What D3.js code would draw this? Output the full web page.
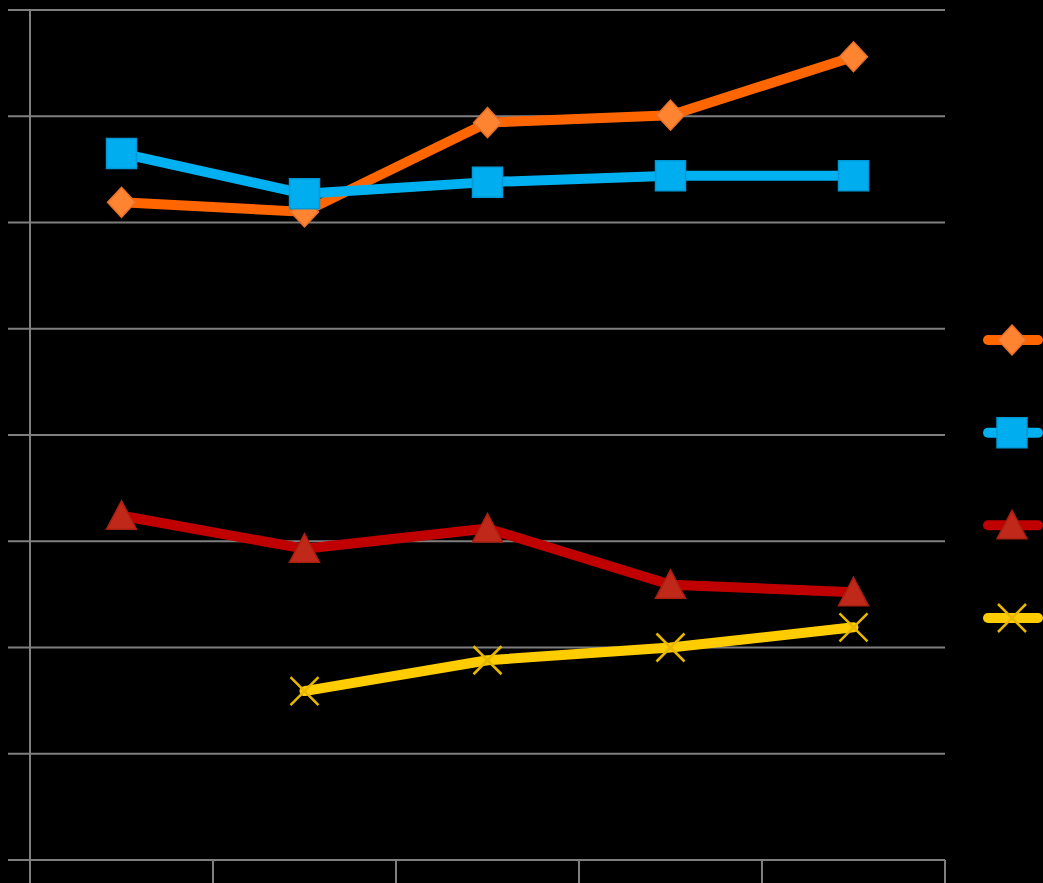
<!DOCTYPE html>
<html>
<head>
<meta charset="utf-8">
<script src="https://cdn.jsdelivr.net/npm/d3@7"></script>
<style>
  html, body { margin: 0; padding: 0; background: #000; }
  svg { display: block; }
</style>
</head>
<body>
<svg id="chart" width="1043" height="883"></svg>
<script>
// ---- data ----
const categories = ["1", "2", "3", "4", "5"];
const seriesNames = ["Series 1", "Series 2", "Series 3", "Series 4"];
const orangeValues = [61.9, 61.0, 69.4, 70.1, 75.6];
const blueValues   = [66.5, 62.7, 63.8, 64.4, 64.4];
const redValues    = [32.4, 29.3, 31.2, 25.9, 25.2];
const yellowValues = [null, 15.9, 18.8, 20.0, 21.9];
const yTicks = [0, 10, 20, 30, 40, 50, 60, 70, 80];

const series = [
  { name: seriesNames[0], values: orangeValues, line: "#FF6600", fill: "#FF8431", stroke: "#E8702A", shape: "diamond" },
  { name: seriesNames[1], values: blueValues,   line: "#00B0F0", fill: "#00AEEF", stroke: "#0099D8", shape: "square" },
  { name: seriesNames[2], values: redValues,    line: "#C00000", fill: "#C0281A", stroke: "#A82010", shape: "triangle" },
  { name: seriesNames[3], values: yellowValues, line: "#FFCC00", fill: "none",    stroke: "#E8B800", shape: "x" }
];

const svg = d3.select("#chart");
const plotL = 30, plotR = 945, plotT = 10, plotB = 860;

const x = d3.scaleBand().domain(categories).range([plotL, plotR]);
const y = d3.scaleLinear().domain([0, 80]).range([plotB, plotT]);

// gridlines
svg.append("g").selectAll("line").data(yTicks).join("line")
  .attr("x1", 8).attr("x2", plotR)
  .attr("y1", d => y(d)).attr("y2", d => y(d))
  .attr("stroke", "#7f7f7f").attr("stroke-width", 2);

// y axis line
svg.append("line").attr("x1", plotL).attr("x2", plotL).attr("y1", plotT).attr("y2", 883)
  .attr("stroke", "#7f7f7f").attr("stroke-width", 2);

// x axis tick marks (band boundaries)
const bounds = categories.map(c => x(c)).concat([x(categories[categories.length - 1]) + x.bandwidth()]);
svg.append("g").selectAll("line").data(bounds.slice(1)).join("line")
  .attr("x1", d => d).attr("x2", d => d).attr("y1", plotB).attr("y2", 883)
  .attr("stroke", "#7f7f7f").attr("stroke-width", 2);

function markerPath(shape, s) {
  const h = s / 2;
  switch (shape) {
    case "diamond": return `M0,${-h}L${h*0.93},0L0,${h}L${-h*0.93},0Z`;
    case "square": return `M${-h},${-h}H${h}V${h}H${-h}Z`;
    case "triangle": return `M0,${-h}L${h},${h*0.9}L${-h},${h*0.9}Z`;
    case "x": return `M${-h},${-h}L${h},${h}M${h},${-h}L${-h},${h}`;
  }
}

function drawMarker(g, s, cx, cy, size) {
  g.append("path")
    .attr("transform", `translate(${cx},${cy})`)
    .attr("d", markerPath(s.shape, size))
    .attr("fill", s.fill)
    .attr("stroke", s.stroke)
    .attr("stroke-width", s.shape === "x" ? 2.5 : 1.5)
    .attr("stroke-linejoin", "miter");
}

const lineGen = d3.line()
  .defined(d => d.v != null)
  .x(d => x(d.c) + x.bandwidth() / 2)
  .y(d => y(d.v));

series.forEach(s => {
  const pts = categories.map((c, i) => ({ c, v: s.values[i] }));
  const g = svg.append("g");
  g.append("path").datum(pts)
    .attr("d", lineGen)
    .attr("fill", "none")
    .attr("stroke", s.line)
    .attr("stroke-width", 10)
    .attr("stroke-linejoin", "round")
    .attr("stroke-linecap", "round");
  pts.filter(p => p.v != null).forEach(p => {
    drawMarker(g, s, x(p.c) + x.bandwidth() / 2, y(p.v), s.shape === "x" ? 28 : 30);
  });
});

// legend (labels lie beyond the right edge in the reference, so only keys are drawn)
const legendY = d3.scalePoint().domain(seriesNames).range([340, 618]);
series.forEach(s => {
  const g = svg.append("g");
  const ly = legendY(s.name);
  g.append("line").attr("x1", 988).attr("x2", 1038).attr("y1", ly).attr("y2", ly)
    .attr("stroke", s.line).attr("stroke-width", 10).attr("stroke-linecap", "round");
  drawMarker(g, s, 1012, ly, s.shape === "x" ? 28 : 30);
});
</script>
</body>
</html>
